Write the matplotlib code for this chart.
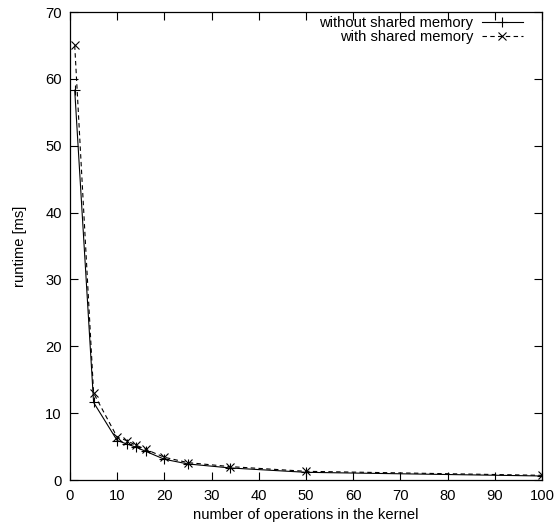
import matplotlib
matplotlib.use("Agg")
import matplotlib.pyplot as plt

plt.rcParams['font.family'] = ['Liberation Sans', 'DejaVu Sans']

ops = [1, 5, 10, 12, 14, 16, 20, 25, 34, 50, 100]
no_shared = [58.3, 11.6, 5.9, 5.4, 4.9, 4.3, 3.1, 2.4, 1.8, 1.15, 0.6]
shared = [65.0, 13.0, 6.4, 5.9, 5.2, 4.6, 3.4, 2.6, 2.0, 1.3, 0.7]

xticks = list(range(0, 101, 10))
yticks = list(range(0, 71, 10))

FS = 10.6


def main():
    fig = plt.figure(figsize=(5.56, 5.29), dpi=100)
    ax = fig.add_axes([70 / 556, 1 - 480 / 529, 472 / 556, 468 / 529])

    ax.plot(ops, no_shared, color='black', linewidth=0.8, marker='+',
            markersize=7, markeredgewidth=0.8, label='without shared memory')
    ax.plot(ops, shared, color='black', linewidth=0.8, linestyle=(0, (4, 3)),
            marker='x', markersize=5.5, markeredgewidth=0.8, label='with shared memory')

    ax.set_xlim(0, 100)
    ax.set_ylim(0, 70)
    ax.set_xticks(xticks)
    ax.set_yticks(yticks)
    ax.tick_params(direction='in', length=6, width=0.8, top=True, right=True,
                   labelsize=FS)
    ax.tick_params(axis='x', pad=6.5)
    ax.tick_params(axis='y', pad=5.8)
    for s in ax.spines.values():
        s.set_linewidth(0.9)

    ax.set_xlabel('number of operations in the kernel', fontsize=FS, labelpad=3.5)
    ax.set_ylabel('runtime [ms]', fontsize=FS, labelpad=13)

    ax.legend(loc='upper right', bbox_to_anchor=(1 - 19 / 472, 1 - 4 / 468),
              frameon=False, markerfirst=False, fontsize=FS,
              handlelength=2.8, handletextpad=0.6, labelspacing=0.0,
              borderpad=0, borderaxespad=0)

    fig.savefig('out.png', dpi=100)
    return 0


if __name__ == "__main__":
    main()
